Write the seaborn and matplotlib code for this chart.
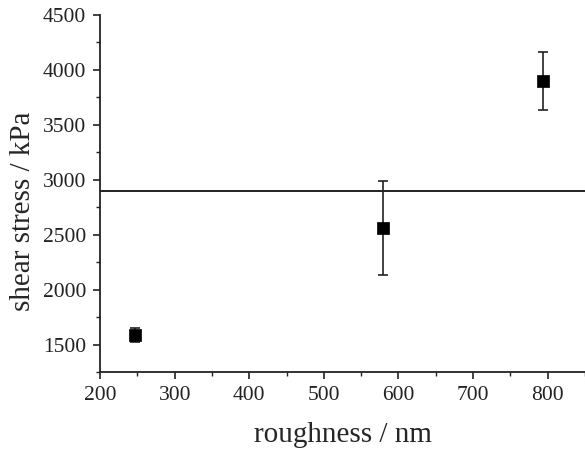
import matplotlib
matplotlib.use("Agg")
import matplotlib.pyplot as plt
import seaborn as sns
import pandas as pd
from matplotlib.ticker import MultipleLocator

roughness = [247, 579, 794]
shear = [1590, 2562, 3900]
err = [65, 430, 262]
ref_level = 2900

sns.set_style("ticks")
plt.rcParams['font.family'] = ['Liberation Serif', 'DejaVu Serif']

fig = plt.figure(figsize=(5.85, 4.51), dpi=100)
ax = fig.add_axes([0.171, 0.175, 0.829, 0.792])

df = pd.DataFrame({"roughness": roughness, "shear": shear, "err": err})
ax.errorbar(df["roughness"], df["shear"], yerr=df["err"], fmt="none",
            ecolor="#222222", elinewidth=1.2, capsize=3.5, capthick=1.2, zorder=2)
sns.scatterplot(data=df, x="roughness", y="shear", marker="s", s=80,
                color="black", edgecolor="black", linewidth=0.5, ax=ax, zorder=3)
ax.axhline(ref_level, color="#222222", lw=1.4, zorder=1)

ax.set_xlim(200, 850)
ax.set_ylim(1250, 4500)
ax.xaxis.set_major_locator(MultipleLocator(100))
ax.xaxis.set_minor_locator(MultipleLocator(50))
ax.yaxis.set_major_locator(MultipleLocator(500))
ax.yaxis.set_minor_locator(MultipleLocator(250))
ax.tick_params(which="major", direction="out", length=5, width=1.2, labelsize=15.5,
               colors="#222222", pad=5)
ax.tick_params(which="minor", direction="out", length=3, width=1.0, colors="#222222")
for s in ["top", "right"]:
    ax.spines[s].set_visible(False)
for s in ["left", "bottom"]:
    ax.spines[s].set_linewidth(1.3)
    ax.spines[s].set_color("#222222")

ax.set_xlabel("roughness / nm", fontsize=21, labelpad=12)
ax.set_ylabel("shear stress / kPa", fontsize=21)
ax.yaxis.set_label_coords(-0.132, 0.45)

fig.savefig("out.png", dpi=100)
